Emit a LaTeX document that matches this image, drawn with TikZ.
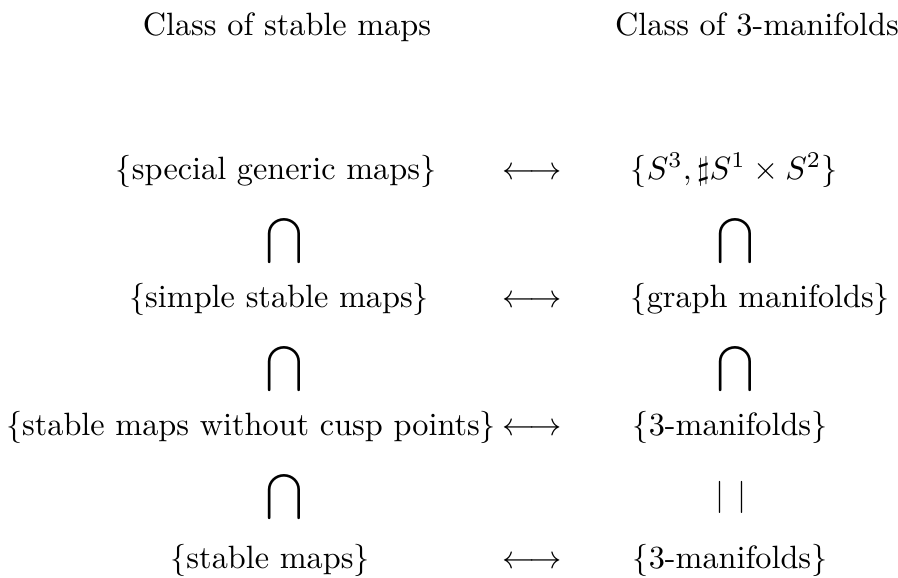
\documentclass[tikz,border=0pt]{standalone}
\begin{document}
\begin{tikzpicture}[x=0.31pt,y=-0.31pt,
  lbl/.style={inner sep=0pt, anchor=base, font=\fontsize{10pt}{12pt}\selectfont},
  rlbl/.style={inner sep=0pt, anchor=base west, font=\fontsize{10pt}{12pt}\selectfont},
  capsym/.style={inner sep=0pt, anchor=center, font=\fontsize{10pt}{12pt}\selectfont},
  arr/.style={inner sep=0pt, anchor=base, font=\fontsize{10pt}{12pt}\selectfont}]
\useasboundingbox (0,0) rectangle (898,578);
% headers
\node[lbl] (hl) at (287,35) {Class of stable maps};
\node[lbl] (hr) at (757,35) {Class of 3-manifolds};
% row 1
\node[lbl] (l1) at (276,179) {$\{$special generic maps$\}$};
\node[arr] (a1) at (532,179) {$\longleftrightarrow$};
\node[rlbl] (r1) at (630,179) {$\{S^3, \sharp S^1 \times S^2\}$};
% caps 1
\node[capsym] (cl1) at (284,241) {$\displaystyle\bigcap$};
\node[capsym] (cr1) at (735,241) {$\displaystyle\bigcap$};
% row 2
\node[lbl] (l2) at (279,307) {$\{$simple stable maps$\}$};
\node[arr] (a2) at (532,307) {$\longleftrightarrow$};
\node[rlbl] (r2) at (630,307) {$\{$graph manifolds$\}$};
% caps 2
\node[capsym] (cl2) at (284,369) {$\displaystyle\bigcap$};
\node[capsym] (cr2) at (735,369) {$\displaystyle\bigcap$};
% row 3
\node[lbl] (l3) at (251,435) {$\{$stable maps without cusp points$\}$};
\node[arr] (a3) at (532,435) {$\longleftrightarrow$};
\node[rlbl] (r3) at (632,435) {$\{$3-manifolds$\}$};
% caps 3
\node[capsym] (cl3) at (284,497) {$\displaystyle\bigcap$};
\node[capsym] (cr3) at (731,497) {$|\hspace{4.3pt}|$};
% row 4
\node[lbl] (l4) at (270,568) {$\{$stable maps$\}$};
\node[arr] (a4) at (532,568) {$\longleftrightarrow$};
\node[rlbl] (r4) at (632,568) {$\{$3-manifolds$\}$};
\end{tikzpicture}
\end{document}
